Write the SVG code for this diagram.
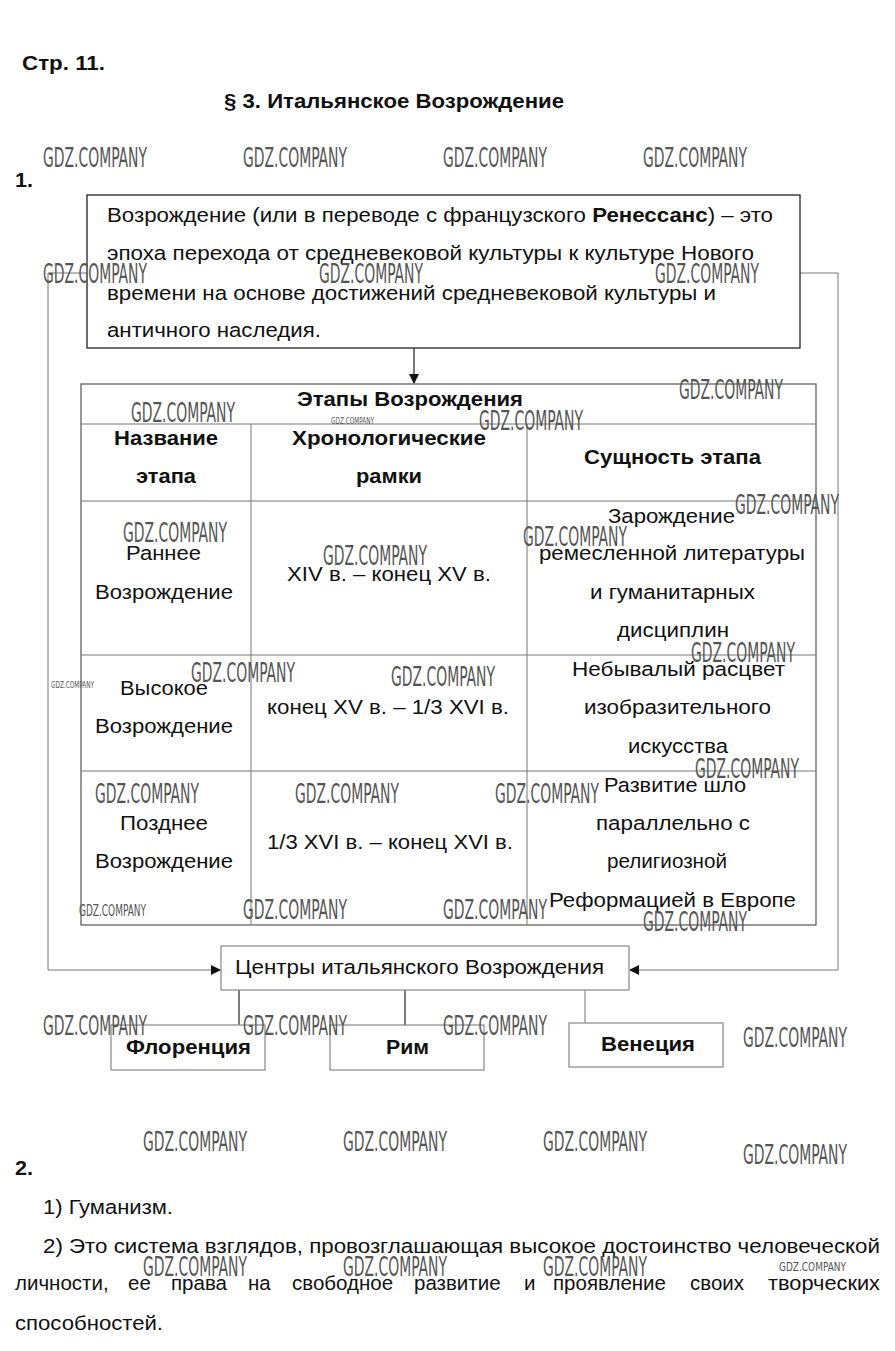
<svg xmlns="http://www.w3.org/2000/svg" width="895" height="1351" viewBox="0 0 895 1351">
<style>
.t{font-family:"Liberation Sans",Arial,sans-serif;font-size:20.5px;fill:#111}
.b{font-weight:bold}
.wm{font-family:"DejaVu Sans Condensed","DejaVu Sans",sans-serif;font-size:26px;fill:#555}
.wms{font-family:"DejaVu Sans Condensed","DejaVu Sans",sans-serif;fill:#555}
.ln{stroke:#333;stroke-width:1.3;fill:none}
.gl{stroke:#777;stroke-width:1;fill:none}
.box{fill:#fff;stroke:#222;stroke-width:1.3}
.gbox{fill:#fff;stroke:#888;stroke-width:1.2}
</style>
<defs>
<marker id="ah" markerWidth="10" markerHeight="10" refX="9" refY="5" orient="auto" markerUnits="userSpaceOnUse">
<path d="M0,0 L10,5 L0,10 z" fill="#111"/>
</marker>
</defs>
<rect width="895" height="1351" fill="#fff"/>
<text class="t b" x="22" y="70" font-size="19" textLength="83" lengthAdjust="spacingAndGlyphs">Стр. 11.</text>
<text class="t b" x="224" y="108" textLength="340" lengthAdjust="spacingAndGlyphs">§ 3. Итальянское Возрождение</text>
<text class="t b" x="15" y="187" textLength="18" lengthAdjust="spacingAndGlyphs">1.</text>

<g id="connectors">
<line class="ln" x1="414" y1="348" x2="414" y2="383" marker-end="url(#ah)"/>
<polyline class="gl" points="87,273 48,273 48,970 220,970" marker-end="url(#ah)"/>
<polyline class="gl" points="800,273 838,273 838,970 630,970" marker-end="url(#ah)"/>
<line class="ln" x1="239" y1="990" x2="239" y2="1025"/>
<line class="ln" x1="405" y1="990" x2="405" y2="1025"/>
<line class="gl" x1="585" y1="990" x2="585" y2="1023"/>
</g>

<g id="definition">
<rect class="box" x="87" y="195" width="713" height="153"/>
<text class="t" x="107" y="222" textLength="666" lengthAdjust="spacingAndGlyphs">Возрождение (или в переводе с французского <tspan class="b">Ренессанс</tspan>) – это</text>
<text class="t" x="107" y="260" textLength="647" lengthAdjust="spacingAndGlyphs">эпоха перехода от средневековой культуры к культуре Нового</text>
<text class="t" x="107" y="300" textLength="609" lengthAdjust="spacingAndGlyphs">времени на основе достижений средневековой культуры и</text>
<text class="t" x="107" y="337" textLength="214" lengthAdjust="spacingAndGlyphs">античного наследия.</text>
</g>

<g id="table">
<rect x="81" y="384" width="735" height="541" fill="#fff" stroke="#555" stroke-width="1.2"/>
<line class="gl" x1="81" y1="424" x2="816" y2="424" stroke="#444"/>
<line class="gl" x1="81" y1="501" x2="816" y2="501"/>
<line class="gl" x1="81" y1="655" x2="816" y2="655"/>
<line class="gl" x1="81" y1="771" x2="816" y2="771" stroke="#444"/>
<line class="gl" x1="251" y1="424" x2="251" y2="925" stroke="#444"/>
<line class="gl" x1="527" y1="424" x2="527" y2="925" stroke="#444"/>
<text class="t b" x="297" y="406" textLength="226" lengthAdjust="spacingAndGlyphs">Этапы Возрождения</text>
<text class="t b" x="114" y="445" textLength="104" lengthAdjust="spacingAndGlyphs">Название</text>
<text class="t b" x="136" y="483" textLength="60" lengthAdjust="spacingAndGlyphs">этапа</text>
<text class="t b" x="292" y="445" textLength="194" lengthAdjust="spacingAndGlyphs">Хронологические</text>
<text class="t b" x="356" y="483" textLength="66" lengthAdjust="spacingAndGlyphs">рамки</text>
<text class="t b" x="584" y="464" textLength="177" lengthAdjust="spacingAndGlyphs">Сущность этапа</text>
<text class="t" x="126" y="560" textLength="75" lengthAdjust="spacingAndGlyphs">Раннее</text>
<text class="t" x="95" y="599" textLength="138" lengthAdjust="spacingAndGlyphs">Возрождение</text>
<text class="t" x="287" y="581" textLength="204" lengthAdjust="spacingAndGlyphs">XIV в. – конец XV в.</text>
<text class="t" x="608" y="523" textLength="127" lengthAdjust="spacingAndGlyphs">Зарождение</text>
<text class="t" x="539" y="560" textLength="266" lengthAdjust="spacingAndGlyphs">ремесленной литературы</text>
<text class="t" x="590" y="599" textLength="165" lengthAdjust="spacingAndGlyphs">и гуманитарных</text>
<text class="t" x="617" y="637" textLength="112" lengthAdjust="spacingAndGlyphs">дисциплин</text>
<text class="t" x="120" y="695" textLength="88" lengthAdjust="spacingAndGlyphs">Высокое</text>
<text class="t" x="95" y="733" textLength="138" lengthAdjust="spacingAndGlyphs">Возрождение</text>
<text class="t" x="267" y="714" textLength="242" lengthAdjust="spacingAndGlyphs">конец XV в. – 1/3 XVI в.</text>
<text class="t" x="572" y="676" textLength="213" lengthAdjust="spacingAndGlyphs">Небывалый расцвет</text>
<text class="t" x="584" y="714" textLength="187" lengthAdjust="spacingAndGlyphs">изобразительного</text>
<text class="t" x="628" y="753" textLength="100" lengthAdjust="spacingAndGlyphs">искусства</text>
<text class="t" x="120" y="830" textLength="88" lengthAdjust="spacingAndGlyphs">Позднее</text>
<text class="t" x="95" y="868" textLength="138" lengthAdjust="spacingAndGlyphs">Возрождение</text>
<text class="t" x="267" y="849" textLength="246" lengthAdjust="spacingAndGlyphs">1/3 XVI в. – конец XVI в.</text>
<text class="t" x="604" y="792" textLength="142" lengthAdjust="spacingAndGlyphs">Развитие шло</text>
<text class="t" x="596" y="830" textLength="154" lengthAdjust="spacingAndGlyphs">параллельно с</text>
<text class="t" x="607" y="868" textLength="120" lengthAdjust="spacingAndGlyphs">религиозной</text>
<text class="t" x="549" y="907" textLength="247" lengthAdjust="spacingAndGlyphs">Реформацией в Европе</text>
</g>

<g id="centers">
<rect class="gbox" x="221" y="946" width="408" height="44"/>
<text class="t" x="235" y="974" textLength="369" lengthAdjust="spacingAndGlyphs">Центры итальянского Возрождения</text>
</g>
<g id="florence">
<rect class="gbox" x="111" y="1025" width="154" height="45"/>
<text class="t b" x="126" y="1054" textLength="125" lengthAdjust="spacingAndGlyphs">Флоренция</text>
</g>
<g id="rome">
<rect class="gbox" x="330" y="1025" width="154" height="45"/>
<text class="t b" x="386" y="1054" textLength="43" lengthAdjust="spacingAndGlyphs">Рим</text>
</g>
<g id="venice">
<rect class="gbox" x="569" y="1023" width="154" height="44"/>
<text class="t b" x="601" y="1051" textLength="94" lengthAdjust="spacingAndGlyphs">Венеция</text>
</g>

<text class="t b" x="15" y="1175" textLength="18" lengthAdjust="spacingAndGlyphs">2.</text>
<text class="t" x="43" y="1214" textLength="130" lengthAdjust="spacingAndGlyphs">1) Гуманизм.</text>
<text class="t" x="43" y="1253" textLength="837" lengthAdjust="spacingAndGlyphs">2) Это система взглядов, провозглашающая высокое достоинство человеческой</text>
<text class="t" y="1290"><tspan x="15">личности,</tspan><tspan x="128">ее</tspan><tspan x="171">права</tspan><tspan x="248">на</tspan><tspan x="292">свободное</tspan><tspan x="414">развитие</tspan><tspan x="524">и</tspan><tspan x="553">проявление</tspan><tspan x="690">своих</tspan><tspan x="768" textLength="112" lengthAdjust="spacingAndGlyphs">творческих</tspan></text>
<text class="t" x="15" y="1330" textLength="148" lengthAdjust="spacingAndGlyphs">способностей.</text>

<g id="watermarks">
<text class="wm" x="43" y="167" textLength="104" lengthAdjust="spacingAndGlyphs">GDZ.COMPANY</text>
<text class="wm" x="243" y="167" textLength="104" lengthAdjust="spacingAndGlyphs">GDZ.COMPANY</text>
<text class="wm" x="443" y="167" textLength="104" lengthAdjust="spacingAndGlyphs">GDZ.COMPANY</text>
<text class="wm" x="643" y="167" textLength="104" lengthAdjust="spacingAndGlyphs">GDZ.COMPANY</text>
<text class="wm" x="43" y="283" textLength="104" lengthAdjust="spacingAndGlyphs">GDZ.COMPANY</text>
<text class="wm" x="319" y="283" textLength="104" lengthAdjust="spacingAndGlyphs">GDZ.COMPANY</text>
<text class="wm" x="655" y="283" textLength="104" lengthAdjust="spacingAndGlyphs">GDZ.COMPANY</text>
<text class="wm" x="679" y="399" textLength="104" lengthAdjust="spacingAndGlyphs">GDZ.COMPANY</text>
<text class="wm" x="131" y="422" textLength="104" lengthAdjust="spacingAndGlyphs">GDZ.COMPANY</text>
<text class="wms" x="331" y="424" font-size="8" textLength="43" lengthAdjust="spacingAndGlyphs">GDZ.COMPANY</text>
<text class="wm" x="479" y="430" textLength="104" lengthAdjust="spacingAndGlyphs">GDZ.COMPANY</text>
<text class="wm" x="735" y="514" textLength="104" lengthAdjust="spacingAndGlyphs">GDZ.COMPANY</text>
<text class="wm" x="123" y="542" textLength="104" lengthAdjust="spacingAndGlyphs">GDZ.COMPANY</text>
<text class="wm" x="523" y="546" textLength="104" lengthAdjust="spacingAndGlyphs">GDZ.COMPANY</text>
<text class="wm" x="323" y="565" textLength="104" lengthAdjust="spacingAndGlyphs">GDZ.COMPANY</text>
<text class="wm" x="691" y="662" textLength="104" lengthAdjust="spacingAndGlyphs">GDZ.COMPANY</text>
<text class="wm" x="191" y="682" textLength="104" lengthAdjust="spacingAndGlyphs">GDZ.COMPANY</text>
<text class="wms" x="51" y="688" font-size="8" textLength="43" lengthAdjust="spacingAndGlyphs">GDZ.COMPANY</text>
<text class="wm" x="391" y="686" textLength="104" lengthAdjust="spacingAndGlyphs">GDZ.COMPANY</text>
<text class="wm" x="695" y="778" textLength="104" lengthAdjust="spacingAndGlyphs">GDZ.COMPANY</text>
<text class="wm" x="95" y="803" textLength="104" lengthAdjust="spacingAndGlyphs">GDZ.COMPANY</text>
<text class="wm" x="295" y="803" textLength="104" lengthAdjust="spacingAndGlyphs">GDZ.COMPANY</text>
<text class="wm" x="495" y="803" textLength="104" lengthAdjust="spacingAndGlyphs">GDZ.COMPANY</text>
<text class="wms" x="79" y="916" font-size="15" textLength="67" lengthAdjust="spacingAndGlyphs">GDZ.COMPANY</text>
<text class="wm" x="243" y="919" textLength="104" lengthAdjust="spacingAndGlyphs">GDZ.COMPANY</text>
<text class="wm" x="443" y="919" textLength="104" lengthAdjust="spacingAndGlyphs">GDZ.COMPANY</text>
<text class="wm" x="643" y="931" textLength="104" lengthAdjust="spacingAndGlyphs">GDZ.COMPANY</text>
<text class="wm" x="43" y="1035" textLength="104" lengthAdjust="spacingAndGlyphs">GDZ.COMPANY</text>
<text class="wm" x="243" y="1035" textLength="104" lengthAdjust="spacingAndGlyphs">GDZ.COMPANY</text>
<text class="wm" x="443" y="1035" textLength="104" lengthAdjust="spacingAndGlyphs">GDZ.COMPANY</text>
<text class="wm" x="743" y="1047" textLength="104" lengthAdjust="spacingAndGlyphs">GDZ.COMPANY</text>
<text class="wm" x="143" y="1151" textLength="104" lengthAdjust="spacingAndGlyphs">GDZ.COMPANY</text>
<text class="wm" x="343" y="1151" textLength="104" lengthAdjust="spacingAndGlyphs">GDZ.COMPANY</text>
<text class="wm" x="543" y="1151" textLength="104" lengthAdjust="spacingAndGlyphs">GDZ.COMPANY</text>
<text class="wm" x="743" y="1164" textLength="104" lengthAdjust="spacingAndGlyphs">GDZ.COMPANY</text>
<text class="wm" x="143" y="1276" textLength="104" lengthAdjust="spacingAndGlyphs">GDZ.COMPANY</text>
<text class="wm" x="343" y="1276" textLength="104" lengthAdjust="spacingAndGlyphs">GDZ.COMPANY</text>
<text class="wm" x="543" y="1276" textLength="104" lengthAdjust="spacingAndGlyphs">GDZ.COMPANY</text>
<text class="wms" x="779" y="1271" font-size="12" textLength="67" lengthAdjust="spacingAndGlyphs">GDZ.COMPANY</text>
</g>
</svg>
